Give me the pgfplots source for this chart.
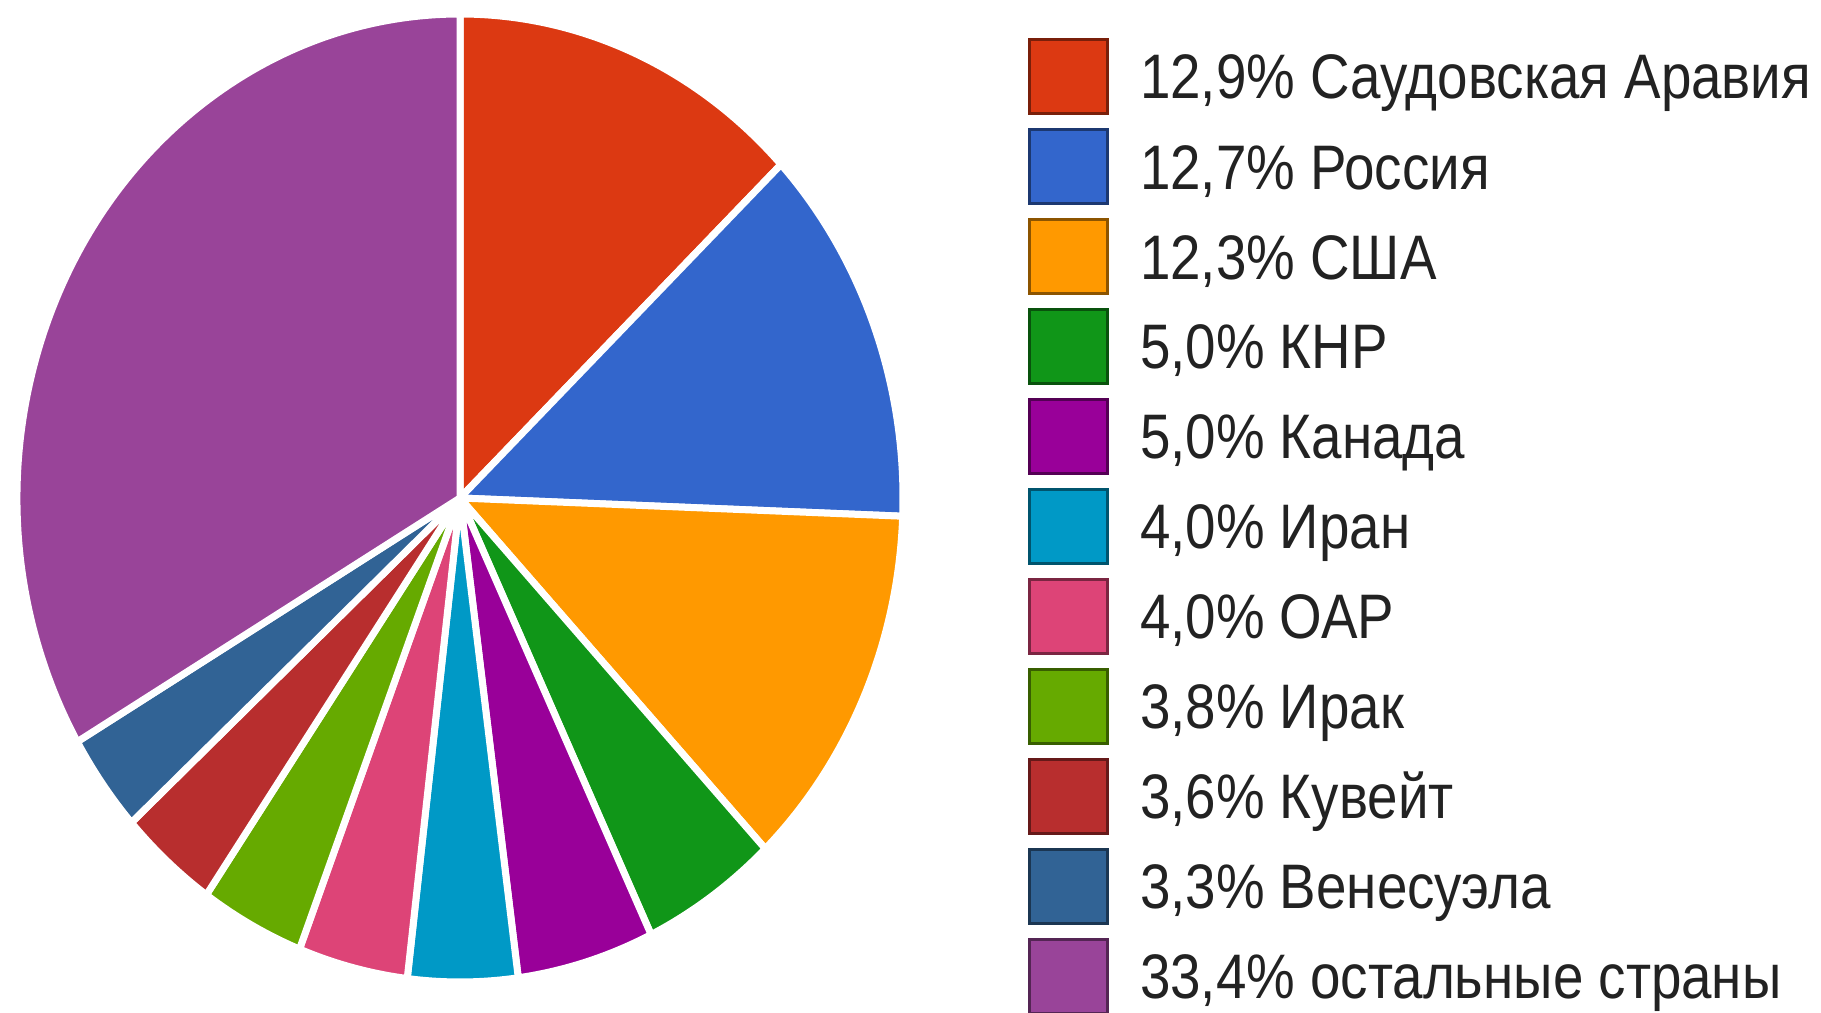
\documentclass[border=0pt]{standalone}
\usepackage{fontspec}
\setmainfont{Liberation Sans}[FakeStretch=0.87]
\usepackage{pgfplots}
\usepackage{pgfplotstable}
\pgfplotsset{compat=1.18}

\definecolor{cSA}{HTML}{DC3912}
\definecolor{cRU}{HTML}{3366CC}
\definecolor{cUS}{HTML}{FF9900}
\definecolor{cCN}{HTML}{109618}
\definecolor{cCA}{HTML}{990099}
\definecolor{cIR}{HTML}{0099C6}
\definecolor{cAE}{HTML}{DD4477}
\definecolor{cIQ}{HTML}{66AA00}
\definecolor{cKW}{HTML}{B82E2E}
\definecolor{cVE}{HTML}{316395}
\definecolor{cOT}{HTML}{994499}
\definecolor{txt}{HTML}{222222}

% share of world oil output, clockwise from the top
\pgfplotstableread{
val  colour
12.9 cSA
12.7 cRU
12.3 cUS
5.0  cCN
5.0  cCA
4.0  cIR
4.0  cAE
3.8  cIQ
3.6  cKW
3.3  cVE
33.4 cOT
}\piedata

\begin{document}
\begin{tikzpicture}
\begin{axis}[
    scale only axis,
    width=18.21cm, height=10.13cm,
    xmin=0, xmax=1821, ymin=0, ymax=1013,
    hide axis,
    legend image code/.code={\draw[#1, line width=0.3mm] (0mm,-3.45mm) rectangle (7.8mm,3.95mm);},
    legend cell align=left,
    legend style={
        at={(axis cs:1028,979)}, anchor=north west,
        draw=none, fill=none, inner sep=0pt, outer sep=0pt,
        row sep=0pt, /tikz/column sep=3.1mm,
        cells={anchor=west},
        nodes={inner sep=0pt, text height=6.5mm, text depth=2.5mm},
        font=\fontsize{17.9}{20}\selectfont, text=txt,
    },
]
\pgfplotstablegetrowsof{\piedata}
\pgfmathtruncatemacro\nrows{\pgfplotsretval-1}
\def\angstart{90}
\pgfplotsforeachungrouped \i in {0,...,\nrows}{%
    \pgfplotstablegetelem{\i}{val}\of\piedata \let\v\pgfplotsretval
    \pgfplotstablegetelem{\i}{colour}\of\piedata \let\c\pgfplotsretval
    \pgfmathsetmacro\angend{\angstart-3.6*\v}
    \edef\temp{\noexpand\fill[\c, draw=white, line width=0.7mm, line join=round]
        (axis cs:460,515) -- ++(\angstart:4.43cm and 4.84cm)
        arc[start angle=\angstart, end angle=\angend, x radius=4.43cm, y radius=4.84cm] -- cycle;}
    \temp
    \let\angstart\angend
}

\addlegendimage{fill=cSA, draw=cSA!55!black}
\addlegendentry{12,9\% Саудовская Аравия}
\addlegendimage{fill=cRU, draw=cRU!55!black}
\addlegendentry{12,7\% Россия}
\addlegendimage{fill=cUS, draw=cUS!55!black}
\addlegendentry{12,3\% США}
\addlegendimage{fill=cCN, draw=cCN!55!black}
\addlegendentry{5,0\% КНР}
\addlegendimage{fill=cCA, draw=cCA!55!black}
\addlegendentry{5,0\% Канада}
\addlegendimage{fill=cIR, draw=cIR!55!black}
\addlegendentry{4,0\% Иран}
\addlegendimage{fill=cAE, draw=cAE!55!black}
\addlegendentry{4,0\% ОАР}
\addlegendimage{fill=cIQ, draw=cIQ!55!black}
\addlegendentry{3,8\% Ирак}
\addlegendimage{fill=cKW, draw=cKW!55!black}
\addlegendentry{3,6\% Кувейт}
\addlegendimage{fill=cVE, draw=cVE!55!black}
\addlegendentry{3,3\% Венесуэла}
\addlegendimage{fill=cOT, draw=cOT!55!black}
\addlegendentry{33,4\% остальные страны}

\coordinate (ll) at (axis cs:0,0);
\coordinate (ur) at (axis cs:1821,1013);
\end{axis}
\pgfresetboundingbox
\path (ll) rectangle (ur);
\end{tikzpicture}
\end{document}
